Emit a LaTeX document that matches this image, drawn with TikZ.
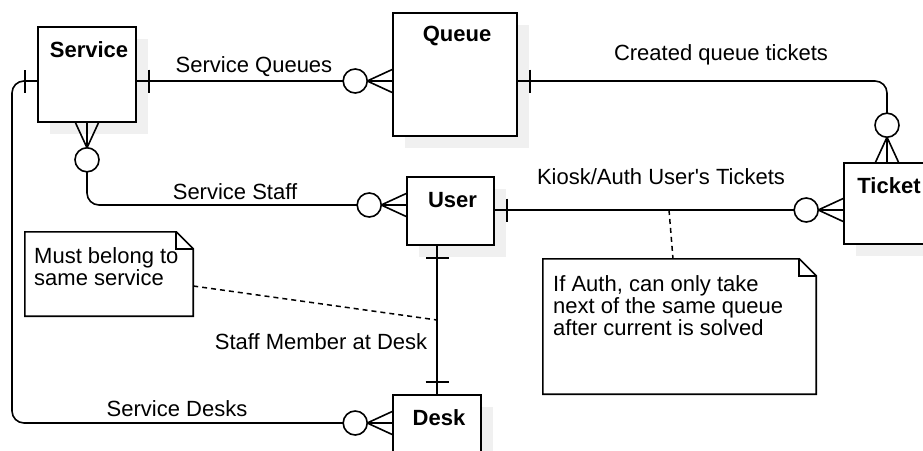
\documentclass[tikz,border=0pt]{standalone}
\usepackage{fontspec}
\setmainfont{Liberation Sans}
\newcommand{\erfont}{\fontsize{22}{22}\selectfont}
\newcommand{\notebox}[1]{%
  \draw[rel,fill=white] (#1.north west) -- ([xshift=-17pt]#1.north east)
    -- ([yshift=-17pt]#1.north east) -- (#1.south east) -- (#1.south west) -- cycle;
  \draw[rel] ([xshift=-17pt]#1.north east) -- ([xshift=-17pt,yshift=-17pt]#1.north east)
    -- ([yshift=-17pt]#1.north east);
}
\tikzset{
  rel/.style={line width=1.6pt},
  entity/.style={draw,line width=1.6pt,fill=white,inner sep=0pt},
  shadowbox/.style={fill=black!6},
  title/.style={font=\erfont\bfseries},
  lbl/.style={inner sep=0pt},
  notetext/.style={inner sep=0pt,align=left,anchor=north west},
  notelink/.style={line width=1.5pt,dash pattern=on 5pt off 4pt},
  erone/.pic={\draw[rel] (12,-11.5) -- (12,11.5);},
  ermany/.pic={\draw[rel] (0,-11.5) -- (25,0) -- (0,11.5) (0,0) -- (25,0);
    \draw[rel,fill=white] (37,0) circle[radius=12pt];},
}
\begin{document}
\begin{tikzpicture}[x=1pt,y=-1pt,font=\erfont]
\useasboundingbox (0,0) rectangle (923,450);
\clip (0,0) rectangle (923,450);
% entities: name/text/centre x/centre y/width/height
\foreach \nm/\txt/\cx/\cy/\w/\h in {service/Service/87/74.5/98/95,
    queue/Queue/455/74.5/124/123,ticket/Ticket/887/203.5/86/81,
    user/User/450.5/211/87/68,desk/Desk/437/426/88/62}
{
  \fill[shadowbox] ({\cx-\w/2+12},{\cy-\h/2+12}) rectangle ({\cx+\w/2+12},{\cy+\h/2+12});
  \node[entity,minimum width=\w pt,minimum height=\h pt] (\nm) at (\cx,\cy) {};
  \node[title] (\nm-t) at ({\cx+2},{\cy-\h/2+23}) {\txt};
}
% relationships
\draw[rel] (service.east |- 0,81) -- (queue.west |- 0,81);
\draw[rel,rounded corners=12pt] (queue.east |- 0,81) -| (ticket.north);
\draw[rel,rounded corners=12pt] (service.south) |- (user.west |- 0,205);
\draw[rel] (user.east |- 0,210) -- (ticket.west |- 0,210);
\draw[rel] (user.south -| desk.north) -- (desk.north);
\draw[rel,rounded corners=12pt] (service.west |- 0,81) -| (12,423) -- (desk.west |- 0,423);
% line ends
\pic at (service.east |- 0,81) {erone};
\pic[rotate=180] at (queue.west |- 0,81) {ermany};
\pic at (queue.east |- 0,81) {erone};
\pic[rotate=90] at (ticket.north) {ermany};
\pic[rotate=-90] at (service.south) {ermany};
\pic[rotate=180] at (user.west |- 0,205) {ermany};
\pic at (user.east |- 0,210) {erone};
\pic[rotate=180] at (ticket.west |- 0,210) {ermany};
\pic[rotate=-90] at (user.south -| desk.north) {erone};
\pic[rotate=90] at (desk.north) {erone};
\pic[rotate=180] at (service.west |- 0,81) {erone};
\pic[rotate=180] at (desk.west |- 0,423) {ermany};
% labels
\node[lbl] (sq-l) at (254,67) {Service Queues};
\node[lbl] (qt-l) at (721,55) {Created queue tickets};
\node[lbl] (ss-l) at (235,192) {Service Staff};
\node[lbl] (ut-l) at (661,177) {Kiosk/Auth User\textquotesingle s Tickets};
\node[lbl] (sm-l) at (321,342) {Staff Member at Desk};
\node[lbl] (sd-l) at (177,409) {Service Desks};
% notes
\node[minimum width=168pt,minimum height=84pt,inner sep=0pt] (n1) at (109,274) {};
\notebox{n1}
\node[notetext] (n1-t) at (34,247) {Must belong to\\same service};
\node[minimum width=273pt,minimum height=135pt,inner sep=0pt] (n2) at (679.5,326.5) {};
\notebox{n2}
\node[notetext] (n2-t) at (553,275) {If Auth, can only take\\next of the same queue\\after current is solved};
\coordinate (ut-m) at (669,210);
\draw[notelink] (n1.east |- 0,286) -- (desk.north |- 0,320);
\draw[notelink] (ut-m) -- (n2.north -| 673,0);
\end{tikzpicture}
\end{document}
